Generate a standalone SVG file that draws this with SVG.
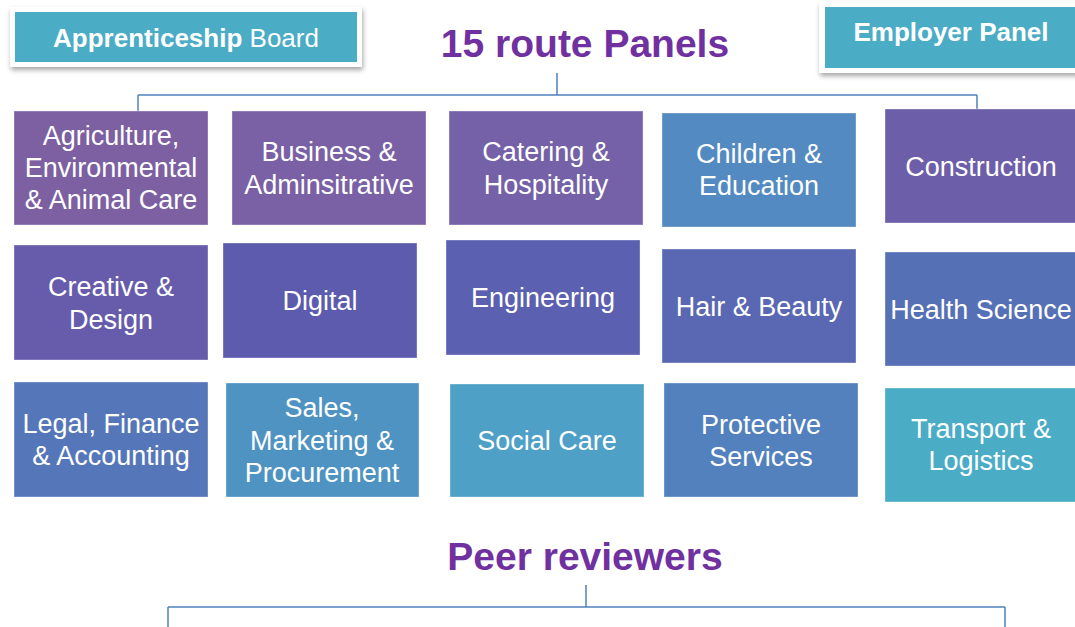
<svg xmlns="http://www.w3.org/2000/svg" width="1075" height="627" viewBox="0 0 1075 627">
<defs>
<filter id="sh" x="-10%" y="-30%" width="120%" height="170%">
<feDropShadow dx="1" dy="3" stdDeviation="2.5" flood-color="#000" flood-opacity="0.35"/>
</filter>
</defs>
<style>
.box{stroke:#ffffff;stroke-opacity:0.35;stroke-width:1}
.lbl{font-family:"Liberation Sans",Arial,sans-serif;font-size:27px;fill:#ffffff;text-anchor:middle}
.hdr{font-family:"Liberation Sans",Arial,sans-serif;font-size:26px;fill:#ffffff;text-anchor:middle}
.title{font-family:"Liberation Sans",Arial,sans-serif;font-size:39px;font-weight:bold;fill:#7030A0;text-anchor:middle}
.conn{fill:none;stroke:#4F81BD;stroke-width:1.5}
.card{fill:#ffffff}
.teal{fill:#4BACC6}
</style>
<rect width="1075" height="627" fill="#ffffff"/>

<g id="connectors">
<path class="conn" d="M557,73 V95 M138,95 H977 M138,95 V111 M977,95 V111"/>
<path class="conn" d="M586,585 V607 M168,607 H1005 M168,607 V627 M1005,607 V627"/>
</g>

<g id="apprenticeship-board">
<rect class="card" x="10" y="7" width="352" height="60" filter="url(#sh)"/>
<rect class="teal" x="15" y="12" width="342" height="50"/>
<text class="hdr" x="186" y="47"><tspan font-weight="bold">Apprenticeship</tspan> Board</text>
</g>

<g id="employer-panel">
<rect class="card" x="819" y="2" width="262" height="71" filter="url(#sh)"/>
<rect class="teal" x="825" y="7" width="256" height="61"/>
<text class="hdr" x="951" y="41" font-weight="bold" font-size="25">Employer Panel</text>
</g>

<g id="title-route-panels">
<text class="title" x="585" y="57">15 route Panels</text>
</g>

<g id="agriculture">
<rect class="box" x="14" y="111" width="194" height="114" fill="#7C60A2"/>
<text class="lbl" x="111" y="145">Agriculture,</text>
<text class="lbl" x="111" y="177">Environmental</text>
<text class="lbl" x="111" y="209">&amp; Animal Care</text>
</g>
<g id="business">
<rect class="box" x="232" y="111" width="194" height="114" fill="#7A60A4"/>
<text class="lbl" x="329" y="161">Business &amp;</text>
<text class="lbl" x="329" y="194">Adminsitrative</text>
</g>
<g id="catering">
<rect class="box" x="449" y="111" width="194" height="114" fill="#7461A8"/>
<text class="lbl" x="546" y="161">Catering &amp;</text>
<text class="lbl" x="546" y="194">Hospitality</text>
</g>
<g id="children">
<rect class="box" x="662" y="113" width="194" height="114" fill="#528AC1"/>
<text class="lbl" x="759" y="163">Children &amp;</text>
<text class="lbl" x="759" y="195">Education</text>
</g>
<g id="construction">
<rect class="box" x="885" y="109" width="192" height="114" fill="#6D5EAA"/>
<text class="lbl" x="981" y="176">Construction</text>
</g>

<g id="creative">
<rect class="box" x="14" y="245" width="194" height="115" fill="#675CAB"/>
<text class="lbl" x="111" y="296">Creative &amp;</text>
<text class="lbl" x="111" y="329">Design</text>
</g>
<g id="digital">
<rect class="box" x="223" y="243" width="194" height="115" fill="#5C5BAE"/>
<text class="lbl" x="320" y="310">Digital</text>
</g>
<g id="engineering">
<rect class="box" x="446" y="240" width="194" height="115" fill="#5B60B0"/>
<text class="lbl" x="543" y="307">Engineering</text>
</g>
<g id="hair-beauty">
<rect class="box" x="662" y="249" width="194" height="114" fill="#5A67B3"/>
<text class="lbl" x="759" y="316">Hair &amp; Beauty</text>
</g>
<g id="health-science">
<rect class="box" x="885" y="252" width="192" height="114" fill="#5670B6"/>
<text class="lbl" x="981" y="319">Health Science</text>
</g>

<g id="legal">
<rect class="box" x="14" y="382" width="194" height="115" fill="#5577BA"/>
<text class="lbl" x="111" y="433">Legal, Finance</text>
<text class="lbl" x="111" y="465">&amp; Accounting</text>
</g>
<g id="sales">
<rect class="box" x="226" y="383" width="193" height="114" fill="#4E93C2"/>
<text class="lbl" x="322" y="417">Sales,</text>
<text class="lbl" x="322" y="450">Marketing &amp;</text>
<text class="lbl" x="322" y="482">Procurement</text>
</g>
<g id="social-care">
<rect class="box" x="450" y="384" width="194" height="113" fill="#4EA0C6"/>
<text class="lbl" x="547" y="450">Social Care</text>
</g>
<g id="protective">
<rect class="box" x="664" y="383" width="194" height="114" fill="#5281BD"/>
<text class="lbl" x="761" y="434">Protective</text>
<text class="lbl" x="761" y="466">Services</text>
</g>
<g id="transport">
<rect class="box" x="885" y="388" width="192" height="114" fill="#4BACC6"/>
<text class="lbl" x="981" y="438">Transport &amp;</text>
<text class="lbl" x="981" y="470">Logistics</text>
</g>

<g id="title-peer-reviewers">
<text class="title" x="585" y="570">Peer reviewers</text>
</g>
</svg>
